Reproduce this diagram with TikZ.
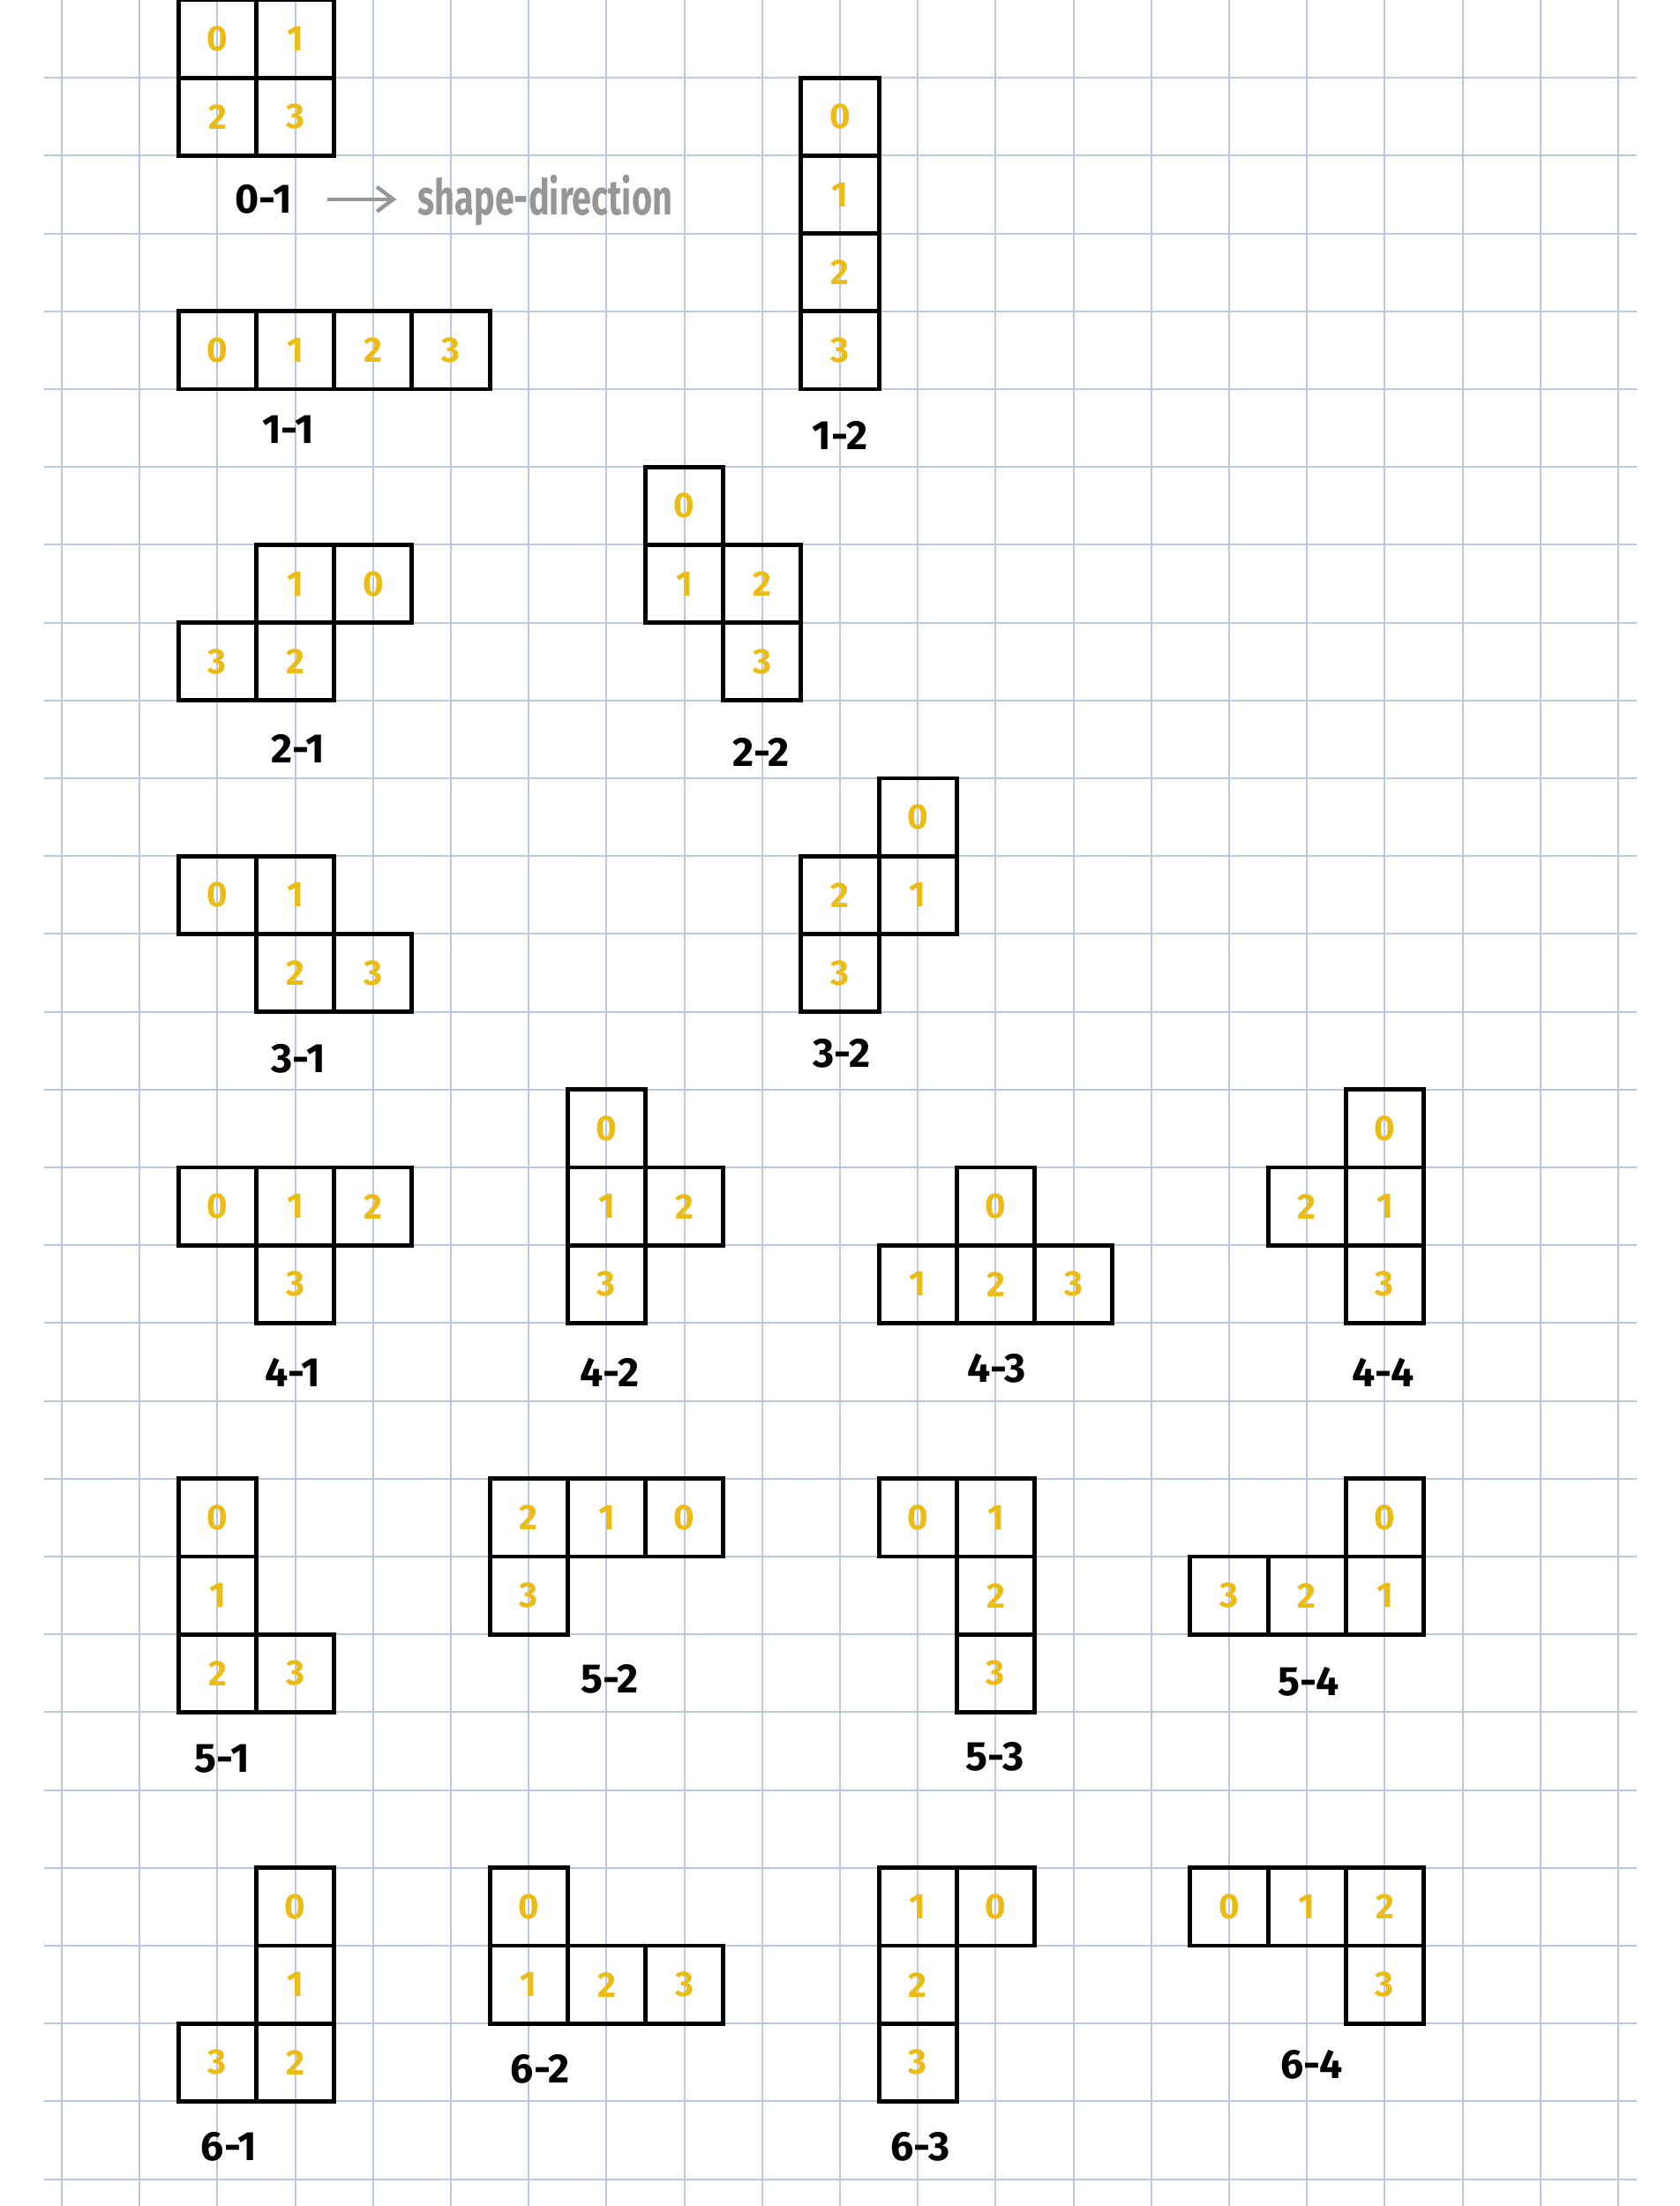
\documentclass[tikz,border=0pt]{standalone}
\usepackage{fontspec}
\usepackage{graphicx}
\setmainfont{Fira Sans}
\usetikzlibrary{arrows.meta}
\definecolor{gridblue}{RGB}{186,200,226}
\definecolor{digitcol}{RGB}{236,188,22}
\definecolor{notegray}{RGB}{150,150,150}
\tikzset{
  gridline/.style={draw=gridblue, line width=0.65pt},
  cellbox/.style={draw=black, line width=1.6pt, minimum size=1cm, inner sep=0pt,
    text=digitcol, font=\fontsize{13}{13}\selectfont\bfseries},
  lbl/.style={inner sep=0pt, text=black, font=\fontsize{15}{15}\selectfont\bfseries},
  notetext/.style={inner sep=0pt, text=notegray, font=\fontsize{18}{18}\selectfont\bfseries},
  notearrow/.style={draw=notegray, line width=1.4pt, -{Straight Barb[length=6pt,width=9pt]}},
}
\newcommand\cellat[4]{\node[cellbox] (#1) at (#2+0.5,-#3-0.5) {#4};}
\begin{document}
\begin{tikzpicture}
\fill[white] (-0.294,0) rectangle (21.293,-28.345);
\useasboundingbox (-0.294,0) rectangle (21.293,-28.345);
% grid paper
\foreach \j in {0,...,20} \draw[gridline] (\j+0.5,0) -- (\j+0.5,-28.345);
\foreach \k in {1,...,28} \draw[gridline] (0.273,-\k) -- (20.735,-\k);

% 0-1
\cellat{a0}{2}{0}{0}\cellat{a1}{3}{0}{1}\cellat{a2}{2}{1}{2}\cellat{a3}{3}{1}{3}
\node[lbl] (l01) at (3.09,-2.56) {0-1};
\node[notetext, anchor=base west] (note) at (5.07,-2.76) {\scalebox{0.71}[1]{shape-direction}};
\draw[notearrow, shorten <=0.45cm, shorten >=0.27cm] (l01.east) -- (l01.east -| note.west);

% 1-1
\cellat{b0}{2}{4}{0}\cellat{b1}{3}{4}{1}\cellat{b2}{4}{4}{2}\cellat{b3}{5}{4}{3}
\node[lbl] (l11) at (3.41,-5.52) {1-1};
% 1-2
\cellat{c0}{10}{1}{0}\cellat{c1}{10}{2}{1}\cellat{c2}{10}{3}{2}\cellat{c3}{10}{4}{3}
\node[lbl] (l12) at (10.5,-5.59) {1-2};

% 2-1
\cellat{d0}{4}{7}{0}\cellat{d1}{3}{7}{1}\cellat{d2}{3}{8}{2}\cellat{d3}{2}{8}{3}
\node[lbl] (l21) at (3.54,-9.62) {2-1};
% 2-2
\cellat{e0}{8}{6}{0}\cellat{e1}{8}{7}{1}\cellat{e2}{9}{7}{2}\cellat{e3}{9}{8}{3}
\node[lbl] (l22) at (9.49,-9.67) {2-2};

% 3-1
\cellat{f0}{2}{11}{0}\cellat{f1}{3}{11}{1}\cellat{f2}{3}{12}{2}\cellat{f3}{4}{12}{3}
\node[lbl] (l31) at (3.54,-13.6) {3-1};
% 3-2
\cellat{g0}{11}{10}{0}\cellat{g1}{11}{11}{1}\cellat{g2}{10}{11}{2}\cellat{g3}{10}{12}{3}
\node[lbl] (l32) at (10.52,-13.54) {3-2};

% 4-1
\cellat{h0}{2}{15}{0}\cellat{h1}{3}{15}{1}\cellat{h2}{4}{15}{2}\cellat{h3}{3}{16}{3}
\node[lbl] (l41) at (3.47,-17.63) {4-1};
% 4-2
\cellat{i0}{7}{14}{0}\cellat{i1}{7}{15}{1}\cellat{i2}{8}{15}{2}\cellat{i3}{7}{16}{3}
\node[lbl] (l42) at (7.54,-17.63) {4-2};
% 4-3
\cellat{j0}{12}{15}{0}\cellat{j1}{11}{16}{1}\cellat{j2}{12}{16}{2}\cellat{j3}{13}{16}{3}
\node[lbl] (l43) at (12.51,-17.58) {4-3};
% 4-4
\cellat{k0}{17}{14}{0}\cellat{k1}{17}{15}{1}\cellat{k2}{16}{15}{2}\cellat{k3}{17}{16}{3}
\node[lbl] (l44) at (17.48,-17.63) {4-4};

% 5-1
\cellat{m0}{2}{19}{0}\cellat{m1}{2}{20}{1}\cellat{m2}{2}{21}{2}\cellat{m3}{3}{21}{3}
\node[lbl] (l51) at (2.56,-22.6) {5-1};
% 5-2
\cellat{n0}{8}{19}{0}\cellat{n1}{7}{19}{1}\cellat{n2}{6}{19}{2}\cellat{n3}{6}{20}{3}
\node[lbl] (l52) at (7.54,-21.57) {5-2};
% 5-3
\cellat{o0}{11}{19}{0}\cellat{o1}{12}{19}{1}\cellat{o2}{12}{20}{2}\cellat{o3}{12}{21}{3}
\node[lbl] (l53) at (12.49,-22.57) {5-3};
% 5-4
\cellat{p0}{17}{19}{0}\cellat{p1}{17}{20}{1}\cellat{p2}{16}{20}{2}\cellat{p3}{15}{20}{3}
\node[lbl] (l54) at (16.52,-21.61) {5-4};

% 6-1
\cellat{q0}{3}{24}{0}\cellat{q1}{3}{25}{1}\cellat{q2}{3}{26}{2}\cellat{q3}{2}{26}{3}
\node[lbl] (l61) at (2.65,-27.58) {6-1};
% 6-2
\cellat{r0}{6}{24}{0}\cellat{r1}{6}{25}{1}\cellat{r2}{7}{25}{2}\cellat{r3}{8}{25}{3}
\node[lbl] (l62) at (6.65,-26.58) {6-2};
% 6-3
\cellat{s0}{12}{24}{0}\cellat{s1}{11}{24}{1}\cellat{s2}{11}{25}{2}\cellat{s3}{11}{26}{3}
\node[lbl] (l63) at (11.53,-27.58) {6-3};
% 6-4
\cellat{t0}{15}{24}{0}\cellat{t1}{16}{24}{1}\cellat{t2}{17}{24}{2}\cellat{t3}{17}{25}{3}
\node[lbl] (l64) at (16.56,-26.53) {6-4};
\end{tikzpicture}
\end{document}
